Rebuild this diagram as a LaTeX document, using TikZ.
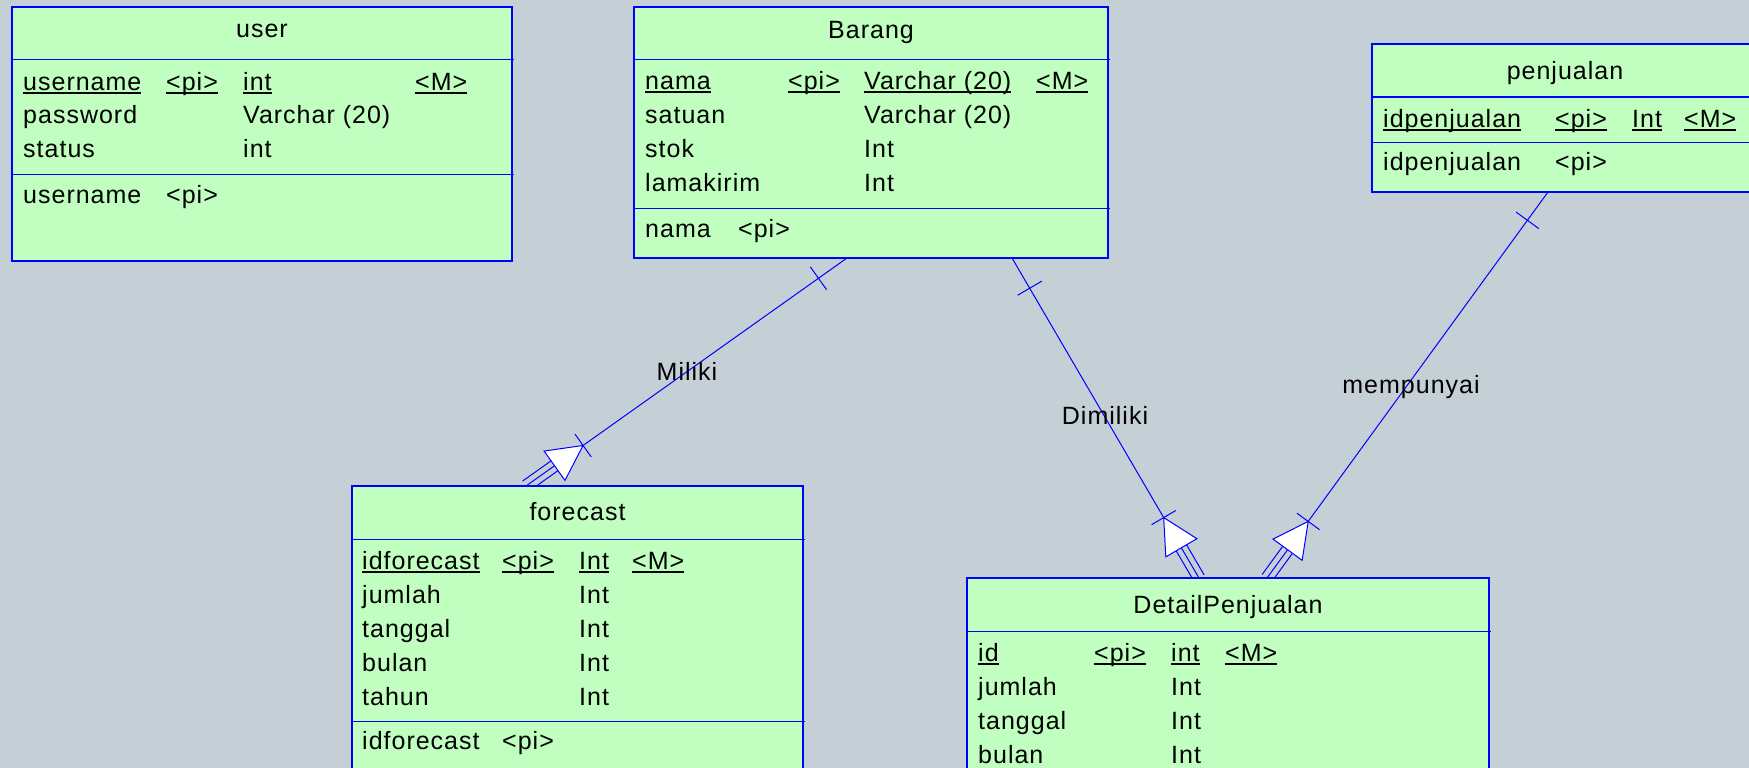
\documentclass[tikz,border=0pt]{standalone}
\usepackage{fontspec}
\setmainfont[LetterSpace=4]{Liberation Sans}
\usetikzlibrary{calc}
\definecolor{canvas}{RGB}{197,208,214}
\definecolor{erfill}{RGB}{192,255,192}
\definecolor{erblue}{RGB}{0,0,255}
\pgfdeclarelayer{back}
\pgfsetlayers{back,main}
% underlined key attribute, one rule height for the whole row
\newsavebox\pkbox
\newcommand{\pk}[1]{\sbox\pkbox{#1}\rlap{\rule[-3.5pt]{\wd\pkbox}{1.6pt}}\usebox\pkbox}

\begin{document}
\begin{tikzpicture}[
  x=1pt, y=-1pt,
  every node/.style={font=\fontsize{25}{29}\selectfont},
  entity/.style={draw=erblue, fill=erfill, line width=1.2pt, anchor=north west, inner sep=0pt, outer sep=0pt},
  sep/.style={draw=erblue, line width=1pt},
  title/.style={anchor=base, inner sep=0pt},
  attr/.style={anchor=base west, inner sep=0pt},
  link/.style={draw=erblue, line width=1pt},
  rname/.style={anchor=base, inner sep=0pt}
]

\begin{pgfonlayer}{back}
  \fill[canvas] (0,0) rectangle (1749,768);
\end{pgfonlayer}
\useasboundingbox (0,0) rectangle (1749,768);

% user
\node[entity, minimum width=500pt, minimum height=254pt] (user) at (12,7) {};
\draw[sep] ($(user.north west)+(0,53)$) -- ++(502,0);
\draw[sep] ($(user.north west)+(0,167)$) -- ++(502,0);
\node[title] at ($(user.north)+(0,31)$) {user};
\node[attr] at (23,90) {\pk{username}};
\node[attr] at (166,90) {\pk{<pi>}};
\node[attr] at (243,90) {\pk{int}};
\node[attr] at (415,90) {\pk{<M>}};
\foreach \n/\t [count=\i from 0] in {password/Varchar (20), status/int}{
  \node[attr] at (23,124+33*\i) {\n};
  \node[attr] at (243,124+33*\i) {\t};
}
\node[attr] at (23,203) {username};
\node[attr] at (166,203) {<pi>};

% Barang
\node[entity, minimum width=474pt, minimum height=251pt] (barang) at (634,7) {};
\draw[sep] ($(barang.north west)+(0,53)$) -- ++(476,0);
\draw[sep] ($(barang.north west)+(0,201)$) -- ++(476,0);
\node[title] at ($(barang.north)+(0,32)$) {Barang};
\node[attr] at (645,89) {\pk{nama}};
\node[attr] at (788,89) {\pk{<pi>}};
\node[attr] at (864,89) {\pk{Varchar (20)}};
\node[attr] at (1036,89) {\pk{<M>}};
\foreach \n/\t [count=\i from 0] in {satuan/Varchar (20), stok/Int, lamakirim/Int}{
  \node[attr] at (645,123+34*\i) {\n};
  \node[attr] at (864,123+34*\i) {\t};
}
\node[attr] at (645,237) {nama};
\node[attr] at (738,237) {<pi>};

% penjualan
\node[entity, minimum width=386pt, minimum height=148pt] (penjualan) at (1372,44) {};
\draw[sep] ($(penjualan.north west)+(0,53)$) -- ++(388,0);
\draw[sep] ($(penjualan.north west)+(0,98)$) -- ++(388,0);
\node[title] at ($(penjualan.north)+(0,36)$) {penjualan};
\node[attr] at (1383,127) {\pk{idpenjualan}};
\node[attr] at (1555,127) {\pk{<pi>}};
\node[attr] at (1632,127) {\pk{Int}};
\node[attr] at (1684,127) {\pk{<M>}};
\node[attr] at (1383,170) {idpenjualan};
\node[attr] at (1555,170) {<pi>};

% forecast
\node[entity, minimum width=451pt, minimum height=300pt] (forecast) at (352,486) {};
\draw[sep] ($(forecast.north west)+(0,53)$) -- ++(453,0);
\draw[sep] ($(forecast.north west)+(0,235)$) -- ++(453,0);
\node[title] at ($(forecast.north)+(0,34)$) {forecast};
\node[attr] at (362,569) {\pk{idforecast}};
\node[attr] at (502,569) {\pk{<pi>}};
\node[attr] at (579,569) {\pk{Int}};
\node[attr] at (632,569) {\pk{<M>}};
\foreach \n [count=\i from 0] in {jumlah, tanggal, bulan, tahun}{
  \node[attr] at (362,603+34*\i) {\n};
  \node[attr] at (579,603+34*\i) {Int};
}
\node[attr] at (362,749) {idforecast};
\node[attr] at (502,749) {<pi>};

% DetailPenjualan
\node[entity, minimum width=522pt, minimum height=210pt] (detail) at (967,578) {};
\draw[sep] ($(detail.north west)+(0,53)$) -- ++(524,0);
\node[title] at ($(detail.north)+(0,35)$) {DetailPenjualan};
\node[attr] at (978,661) {\pk{id}};
\node[attr] at (1094,661) {\pk{<pi>}};
\node[attr] at (1171,661) {\pk{int}};
\node[attr] at (1225,661) {\pk{<M>}};
\foreach \n [count=\i from 0] in {jumlah, tanggal, bulan}{
  \node[attr] at (978,695+34*\i) {\n};
  \node[attr] at (1171,695+34*\i) {Int};
}

% relationship ends on the entity borders
\coordinate (brg-miliki) at ($(barang.south west)+(213,0)$);
\coordinate (fc-miliki) at ($(forecast.north west)+(174,0)$);
\coordinate (brg-dimiliki) at ($(barang.south west)+(378,0)$);
\coordinate (dp-dimiliki) at ($(detail.north west)+(232,0)$);
\coordinate (pj-mempunyai) at ($(penjualan.south west)+(176,0)$);
\coordinate (dp-mempunyai) at ($(detail.north west)+(300,0)$);

% relationships: bar at the one side, triangle and feet at the many side
\begin{pgfonlayer}{back}
\foreach \s/\e in {brg-miliki/fc-miliki, brg-dimiliki/dp-dimiliki, pj-mempunyai/dp-mempunyai}{
  \coordinate (apex) at ($(\e)!70pt!(\s)$);
  \coordinate (base) at ($(apex)!35pt!(\e)$);
  \coordinate (tick) at ($(\s)!35pt!(\e)$);
  \draw[link] (\s) -- (apex);
  \draw[link] ($(tick)!14pt!90:(\e)$) -- ($(tick)!14pt!-90:(\e)$);
  \draw[link] ($(apex)!14pt!90:(\e)$) -- ($(apex)!14pt!-90:(\e)$);
  \foreach \o in {-6,0,6}
    \draw[link] ($(base)!\o pt!90:(\e)$) -- ($(\e)!\o pt!-90:(\s)$);
  \draw[link, fill=white] (apex) -- ($(base)!18pt!90:(\e)$) -- ($(base)!18pt!-90:(\e)$) -- cycle;
}
\end{pgfonlayer}

\node[rname] (miliki) at (687,380) {Miliki};
\node[rname] (dimiliki) at (1105,424) {Dimiliki};
\node[rname] (mempunyai) at (1411,393) {mempunyai};

\end{tikzpicture}
\end{document}
